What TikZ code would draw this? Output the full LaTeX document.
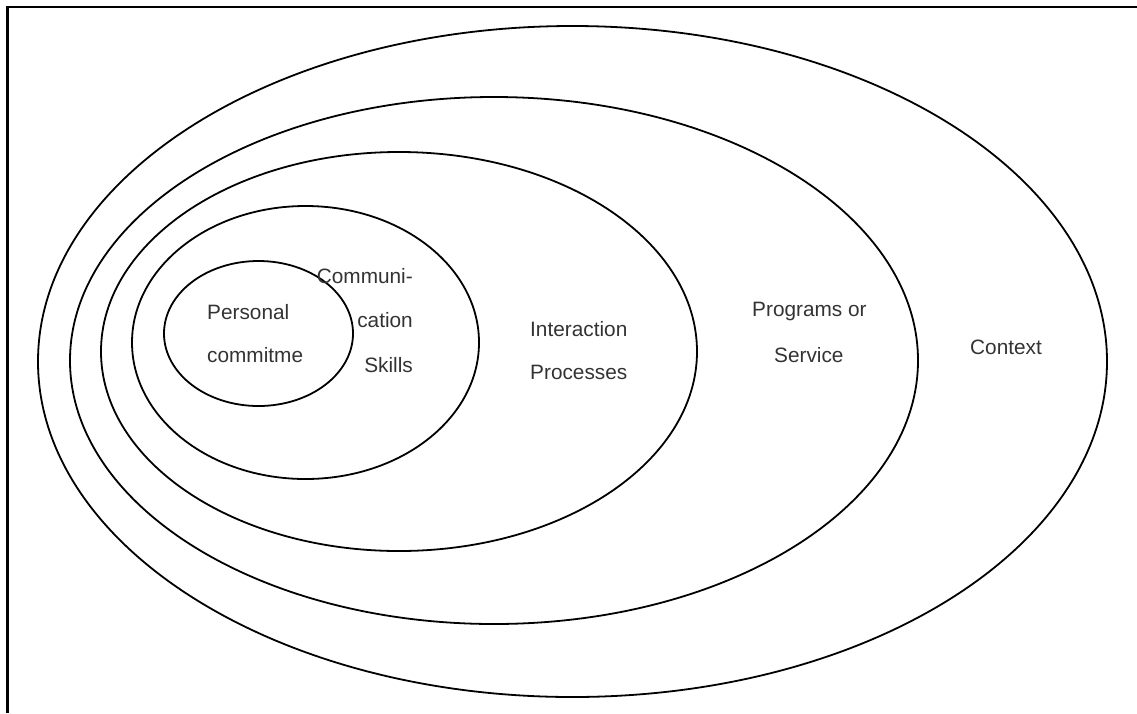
\documentclass[tikz,border=0pt]{standalone}
\usepackage{fontspec}
\setmainfont{Liberation Sans}
\definecolor{txt}{HTML}{333333}
\begin{document}
\begin{tikzpicture}[x=1pt,y=-1pt,
  ring/.style={draw=black,line width=1.8pt},
  lbl/.style={text=txt,font=\fontsize{20.8}{24}\selectfont,inner sep=0pt},
  frame/.style={draw=black,line width=2.4pt}]
\useasboundingbox (0,0) rectangle (1137,713);
\draw[frame] (7.5,713) -- (7.5,7) -- (1137,7);
\draw[ring] (572.5,361.5) ellipse [x radius=534.5, y radius=335.5];
\draw[ring] (494,360.5) ellipse [x radius=424, y radius=263.5];
\draw[ring] (399,351.5) ellipse [x radius=298, y radius=199.5];
\draw[ring] (305.5,342.5) ellipse [x radius=173.5, y radius=136.5];
\draw[ring] (258.5,333.5) ellipse [x radius=94.5, y radius=72.5];
\node[lbl,anchor=base west] (p1) at (207,319) {Personal};
\node[lbl,anchor=base west] (p2) at (207,362) {commitme};
\node[lbl,anchor=base east] (c1) at (413,283) {Communi-};
\node[lbl,anchor=base east] (c2) at (413,327) {cation};
\node[lbl,anchor=base east] (c3) at (413,372) {Skills};
\node[lbl,anchor=base west] (i1) at (530,336) {Interaction};
\node[lbl,anchor=base west] (i2) at (530,379) {Processes};
\node[lbl,anchor=base west] (s1) at (752,316) {Programs or};
\node[lbl,anchor=base west] (s2) at (774,362) {Service};
\node[lbl,anchor=base west] (ctx) at (970,354) {Context};
\end{tikzpicture}
\end{document}
